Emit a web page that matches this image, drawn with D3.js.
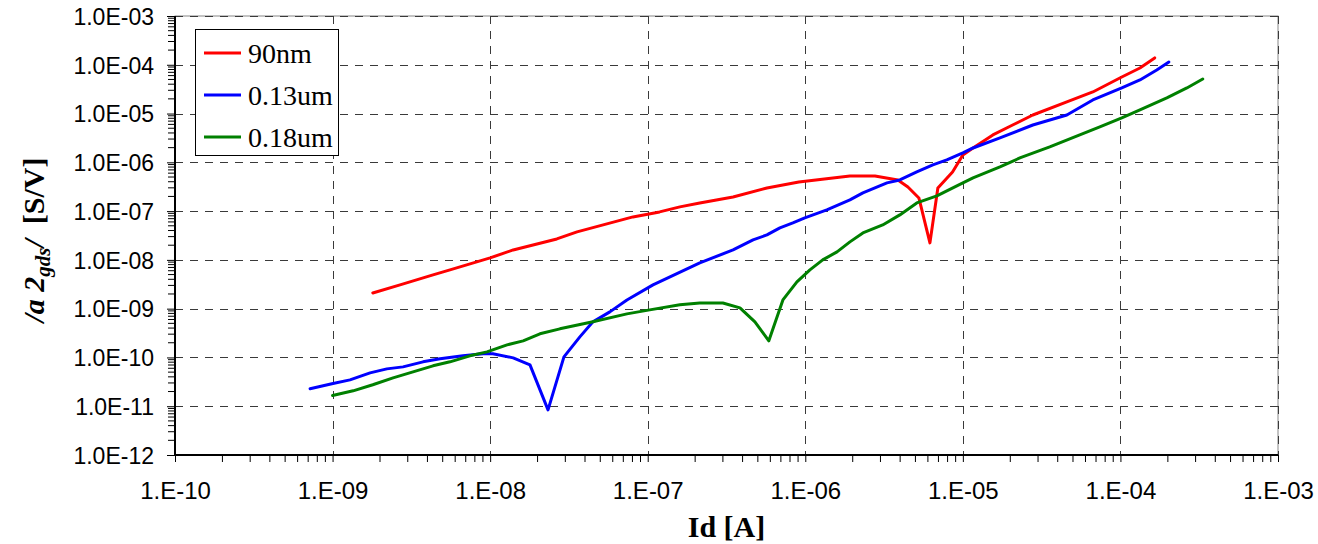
<!DOCTYPE html>
<html>
<head>
<meta charset="utf-8">
<script src="https://cdn.jsdelivr.net/npm/d3@7/dist/d3.min.js"></script>
<style>
  html, body { margin: 0; padding: 0; background: #fff; }
  svg { display: block; }
</style>
</head>
<body>
<svg id="chart" width="1318" height="544"></svg>
<script>
// Drain current Id [A] for each curve
const id90 = [1.80e-9, 2.68e-9, 4.34e-9, 5.56e-9, 1.0e-8, 1.40e-8, 2.65e-8, 3.56e-8, 8.06e-8, 1.19e-7, 1.60e-7, 2.14e-7, 3.48e-7, 5.71e-7, 9.1e-7, 1.92e-6, 2.77e-6, 3.87e-6, 4.48e-6, 5.26e-6, 6.18e-6, 6.94e-6, 8.6e-6, 1.0e-5, 1.16e-5, 1.55e-5, 2.07e-5, 2.78e-5, 4.57e-5, 6.68e-5, 1.02e-4, 1.33e-4, 1.65e-4];
const a2gds90 = [2.1e-9, 3.07e-9, 4.93e-9, 6.24e-9, 1.1e-8, 1.60e-8, 2.69e-8, 3.75e-8, 7.6e-8, 9.63e-8, 1.22e-7, 1.47e-7, 1.95e-7, 2.98e-7, 3.96e-7, 5.26e-7, 5.26e-7, 4.36e-7, 3.13e-7, 1.86e-7, 2.23e-8, 2.98e-7, 6.35e-7, 1.42e-6, 1.97e-6, 3.64e-6, 5.83e-6, 9.35e-6, 1.73e-5, 2.77e-5, 5.62e-5, 8.6e-5, 1.38e-4];

const id013 = [7.2e-10, 9.9e-10, 1.29e-9, 1.73e-9, 2.21e-9, 2.80e-9, 3.75e-9, 4.81e-9, 6.72e-9, 9.0e-9, 1.04e-8, 1.40e-8, 1.79e-8, 2.33e-8, 2.94e-8, 3.71e-8, 4.49e-8, 5.75e-8, 7.38e-8, 1.08e-7, 2.14e-7, 3.48e-7, 4.66e-7, 5.71e-7, 6.90e-7, 8.34e-7, 9.93e-7, 1.37e-6, 1.92e-6, 2.32e-6, 3.30e-6, 3.98e-6, 5.10e-6, 6.45e-6, 7.91e-6, 1.0e-5, 1.16e-5, 1.72e-5, 2.78e-5, 4.57e-5, 6.68e-5, 1.02e-4, 1.33e-4, 1.70e-4, 2.03e-4];
const a2gds013 = [2.28e-11, 2.88e-11, 3.47e-11, 4.83e-11, 5.83e-11, 6.41e-11, 8.13e-11, 9.36e-11, 1.08e-10, 1.19e-10, 1.19e-10, 9.8e-11, 7.05e-11, 8.4e-12, 1.03e-10, 2.64e-10, 5.37e-10, 8.6e-10, 1.51e-9, 3.07e-9, 8.7e-9, 1.60e-8, 2.57e-8, 3.25e-8, 4.53e-8, 5.73e-8, 7.26e-8, 1.06e-7, 1.70e-7, 2.36e-7, 3.79e-7, 4.36e-7, 6.35e-7, 8.85e-7, 1.12e-6, 1.56e-6, 1.97e-6, 3.16e-6, 5.83e-6, 9.35e-6, 1.90e-5, 3.35e-5, 4.89e-5, 7.82e-5, 1.14e-4];

const id018 = [1.0e-9, 1.35e-9, 1.80e-9, 2.42e-9, 3.24e-9, 4.34e-9, 5.56e-9, 7.44e-9, 9.55e-9, 1.28e-8, 1.62e-8, 2.07e-8, 2.77e-8, 4.49e-8, 7.38e-8, 1.03e-7, 1.60e-7, 2.14e-7, 3.0e-7, 3.85e-7, 4.79e-7, 5.87e-7, 7.21e-7, 8.85e-7, 1.07e-6, 1.29e-6, 1.59e-6, 1.92e-6, 2.32e-6, 3.10e-6, 3.98e-6, 5.10e-6, 6.84e-6, 9.16e-6, 1.16e-5, 1.72e-5, 2.30e-5, 3.56e-5, 5.52e-5, 7.40e-5, 1.02e-4, 1.33e-4, 1.97e-4, 2.64e-4, 3.33e-4];
const a2gds018 = [1.66e-11, 2.07e-11, 2.75e-11, 3.82e-11, 5.07e-11, 6.73e-11, 8.13e-11, 1.08e-10, 1.30e-10, 1.81e-10, 2.19e-10, 3.05e-10, 3.86e-10, 5.37e-10, 7.82e-10, 9.44e-10, 1.20e-9, 1.31e-9, 1.31e-9, 1.04e-9, 5.37e-10, 2.19e-10, 1.51e-9, 3.54e-9, 6.24e-9, 1.0e-8, 1.46e-8, 2.34e-8, 3.57e-8, 5.21e-8, 8.36e-8, 1.47e-7, 2.05e-7, 3.28e-7, 4.79e-7, 8.05e-7, 1.23e-6, 2.07e-6, 3.64e-6, 5.31e-6, 8.13e-6, 1.19e-5, 2.09e-5, 3.35e-5, 5.12e-5];

const seriesNames = ["90nm", "0.13um", "0.18um"];
const seriesColors = ["#ff0000", "#0000ff", "#008000"];

const xTicks = [1e-10, 1e-9, 1e-8, 1e-7, 1e-6, 1e-5, 1e-4, 1e-3];
const xTickLabels = ["1.E-10", "1.E-09", "1.E-08", "1.E-07", "1.E-06", "1.E-05", "1.E-04", "1.E-03"];
const yTicks = [1e-12, 1e-11, 1e-10, 1e-9, 1e-8, 1e-7, 1e-6, 1e-5, 1e-4, 1e-3];
const yTickLabels = ["1.0E-12", "1.0E-11", "1.0E-10", "1.0E-09", "1.0E-08", "1.0E-07", "1.0E-06", "1.0E-05", "1.0E-04", "1.0E-03"];

const series = [
  { name: seriesNames[0], color: seriesColors[0], x: id90, y: a2gds90 },
  { name: seriesNames[1], color: seriesColors[1], x: id013, y: a2gds013 },
  { name: seriesNames[2], color: seriesColors[2], x: id018, y: a2gds018 }
];

const plot = { left: 175, right: 1278, top: 16, bottom: 455 };
const svg = d3.select("#chart");

const x = d3.scaleLog().domain([1e-10, 1e-3]).range([plot.left, plot.right]);
const y = d3.scaleLog().domain([1e-12, 1e-3]).range([plot.bottom, plot.top]);

// minor tick positions: 2..9 in each decade
function minors(lo, hi) {
  const out = [];
  for (let e = lo; e < hi; e++) for (let m = 2; m <= 9; m++) out.push(m * Math.pow(10, e));
  return out;
}
const xMinor = minors(-10, -3);
const yMinor = minors(-12, -3);

// plot frame
svg.append("rect")
  .attr("x", plot.left).attr("y", plot.top)
  .attr("width", plot.right - plot.left).attr("height", plot.bottom - plot.top)
  .attr("fill", "#fff").attr("stroke", "#888").attr("stroke-width", 1);

// dashed grid
const grid = svg.append("g").attr("stroke", "#3a3a3a").attr("stroke-width", 1)
  .attr("stroke-dasharray", "8,7").attr("shape-rendering", "crispEdges");
grid.selectAll("line.gx").data(xTicks.slice(1)).join("line")
  .attr("x1", d => Math.round(x(d)) + 0.5).attr("x2", d => Math.round(x(d)) + 0.5)
  .attr("y1", plot.top).attr("y2", plot.bottom);
grid.selectAll("line.gy").data(yTicks.slice(1)).join("line")
  .attr("y1", d => Math.round(y(d)) + 0.5).attr("y2", d => Math.round(y(d)) + 0.5)
  .attr("x1", plot.left).attr("x2", plot.right);

// axes
const xAxis = d3.axisBottom(x).tickValues(xTicks).tickSize(7).tickFormat((d, i) => xTickLabels[i]);
const yAxis = d3.axisLeft(y).tickValues(yTicks).tickSize(8).tickFormat((d, i) => yTickLabels[i]);

const gx = svg.append("g").attr("transform", `translate(0,${plot.bottom})`).call(xAxis);
gx.append("g").selectAll("line").data(xMinor).join("line")
  .attr("x1", d => x(d)).attr("x2", d => x(d)).attr("y1", 0).attr("y2", 7)
  .attr("stroke", "#000").attr("stroke-width", 1);

const gy = svg.append("g").attr("transform", `translate(${plot.left},0)`).call(yAxis);
gy.append("g").selectAll("line").data(yMinor).join("line")
  .attr("y1", d => y(d)).attr("y2", d => y(d)).attr("x1", 0).attr("x2", -7)
  .attr("stroke", "#000").attr("stroke-width", 1);

[gx, gy].forEach(g => {
  g.select(".domain").attr("stroke", "#000").attr("stroke-width", 2);
  g.selectAll(".tick line").attr("stroke", "#000");
  g.selectAll(".tick text")
    .attr("font-family", "'Liberation Sans', Arial, sans-serif")
    .attr("fill", "#000");
});
gx.selectAll(".tick text").attr("font-size", 24).attr("y", 27).attr("dy", "0.71em");
gy.selectAll(".tick text").attr("font-size", 23).attr("x", -21).attr("dy", "0.36em");
gx.select(".domain").attr("d", `M${plot.left},0H${plot.right}`);
gy.select(".domain").attr("d", `M0,${plot.bottom}V${plot.top}`);

// curves
const line = d3.line().x(d => x(d[0])).y(d => y(d[1]));
svg.append("g").selectAll("path").data(series).join("path")
  .attr("d", s => line(s.x.map((v, i) => [v, s.y[i]])))
  .attr("fill", "none")
  .attr("stroke", s => s.color)
  .attr("stroke-width", 3)
  .attr("stroke-linejoin", "round")
  .attr("stroke-linecap", "round");

// legend
const lg = svg.append("g");
lg.append("rect").attr("x", 195.5).attr("y", 29.5).attr("width", 143).attr("height", 126)
  .attr("fill", "#fff").attr("stroke", "#000").attr("stroke-width", 1);
const rows = lg.selectAll("g.row").data(series).join("g")
  .attr("transform", (d, i) => `translate(0,${53 + i * 42})`);
rows.append("line").attr("x1", 204).attr("x2", 241).attr("y1", 0).attr("y2", 0)
  .attr("stroke", d => d.color).attr("stroke-width", 3);
rows.append("text").attr("x", 248).attr("y", 10)
  .attr("font-family", "'Liberation Serif', 'Times New Roman', serif")
  .attr("font-size", 28).text(d => d.name);

// axis titles
svg.append("text")
  .attr("x", (plot.left + plot.right) / 2).attr("y", 537)
  .attr("text-anchor", "middle")
  .attr("font-family", "'Liberation Serif', 'Times New Roman', serif")
  .attr("font-weight", "bold").attr("font-size", 30)
  .text("Id [A]");

const yt = svg.append("text")
  .attr("transform", "translate(44,240) rotate(-90)")
  .attr("text-anchor", "middle")
  .attr("font-family", "'Liberation Serif', 'Times New Roman', serif")
  .attr("font-weight", "bold").attr("font-size", 30);
yt.append("tspan").attr("font-style", "italic").text("/a 2");
yt.append("tspan").attr("font-style", "italic").attr("font-size", 21).attr("dy", 6).text("gds");
yt.append("tspan").attr("font-style", "italic").attr("dy", -6).text("/");
yt.append("tspan").text("\u00a0 [S/V]");
</script>
</body>
</html>
